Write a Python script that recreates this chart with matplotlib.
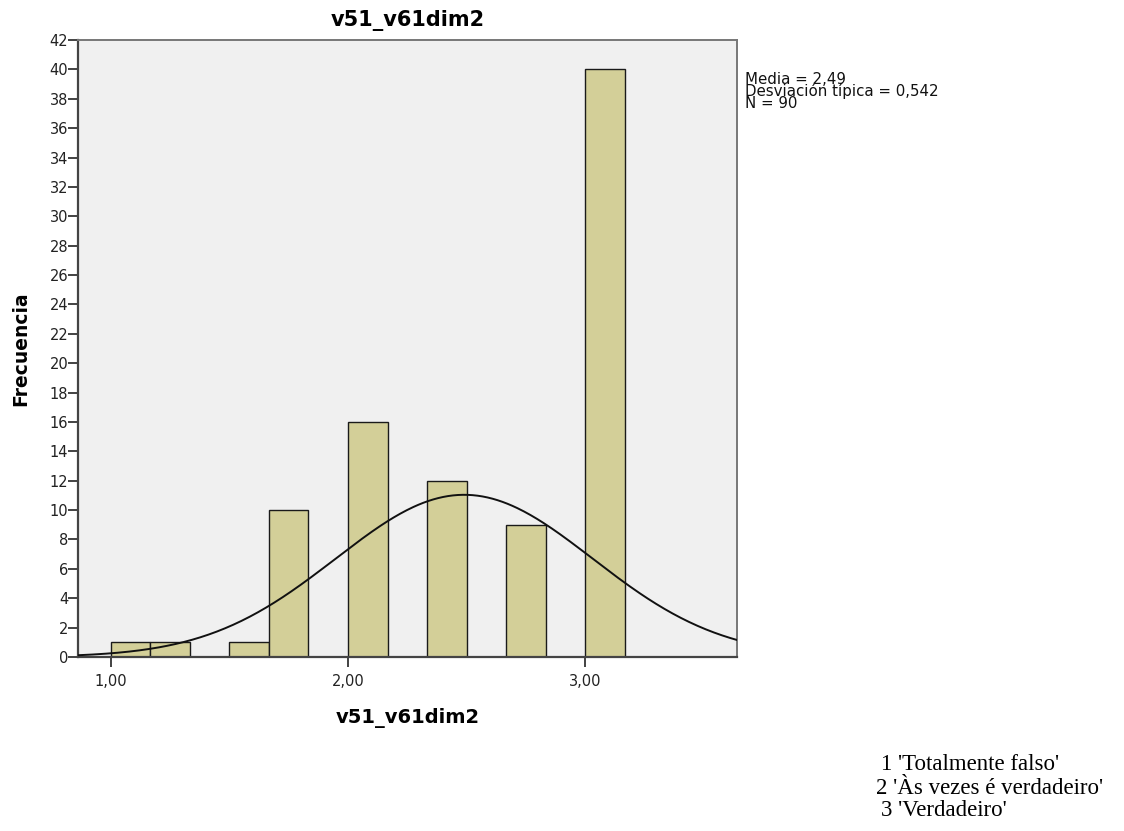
import numpy as np
import matplotlib
matplotlib.use("Agg")
import matplotlib.pyplot as plt
from matplotlib.ticker import FuncFormatter

# valores observados de v51_v61dim2 (medias de 6 items) y sus frecuencias
valores = [1, 7 / 6, 3 / 2, 5 / 3, 2, 7 / 3, 8 / 3, 3]
frecuencias = [1, 1, 1, 10, 16, 12, 9, 40]
media = 2.49
desv = 0.542
n = 90
ancho_bin = 1 / 6

estadisticos = 'Media = 2,49\nDesviación típica = 0,542\nN = 90'
etiquetas = ["1 'Totalmente falso'", "2 'Às vezes é verdadeiro'", "3 'Verdadeiro'"]

plt.rcParams['font.family'] = ['DejaVu Sans']

W, H = 1124, 831
fig = plt.figure(figsize=(W / 100, H / 100), dpi=100)
ax = fig.add_axes([78 / W, 1 - 657 / H, (737 - 78) / W, (657 - 40) / H])
ax.set_facecolor('#f0f0f0')

# bordes de clase: 1,00 + k/6
bordes = 1 - 1e-6 + np.arange(14) * ancho_bin
ax.hist(valores, bins=bordes, weights=frecuencias, color='#d3cf98',
        edgecolor='#1a1a1a', linewidth=1.0, zorder=2)

xmin, xmax = 0.861, 3.641
xs = np.linspace(xmin, xmax, 400)
ys = n * ancho_bin / (desv * np.sqrt(2 * np.pi)) * np.exp(-0.5 * ((xs - media) / desv) ** 2)
ax.plot(xs, ys, color='#111111', linewidth=1.4, zorder=3)

ax.set_xlim(xmin, xmax)
ax.set_ylim(0, 42)
ax.set_xticks([1, 2, 3])
ax.set_yticks(range(0, 43, 2))
ax.xaxis.set_major_formatter(FuncFormatter(lambda v, p: f"{v:.2f}".replace('.', ',')))
ax.tick_params(axis='both', labelsize=10.5, colors='#222222', width=1.2, direction='out')
ax.tick_params(axis='y', length=7, pad=0)
ax.tick_params(axis='x', length=7, pad=5)

for s in ['left', 'bottom']:
    ax.spines[s].set_color('#444444')
    ax.spines[s].set_linewidth(1.6)
for s in ['top', 'right']:
    ax.spines[s].set_color('#777777')
    ax.spines[s].set_linewidth(1.4)

ax.set_title('v51_v61dim2', fontsize=15, fontweight='bold', pad=10)
ax.set_xlabel('v51_v61dim2', fontsize=14, fontweight='bold', labelpad=14)
ax.set_ylabel('Frecuencia', fontsize=13.5, fontweight='bold', labelpad=14)

fig.text(745 / W, 1 - 72 / H, estadisticos, fontsize=10.8, va='top', ha='left',
         linespacing=0.72, color='#111111')

xs_nota = [881, 876, 881]
ys_nota = [765, 788, 811]
for t, xp, yp in zip(etiquetas, xs_nota, ys_nota):
    fig.text(xp / W, 1 - yp / H, t, fontsize=16.5,
             family='Liberation Serif', ha='left', va='center')

fig.savefig('out.png', dpi=100)
